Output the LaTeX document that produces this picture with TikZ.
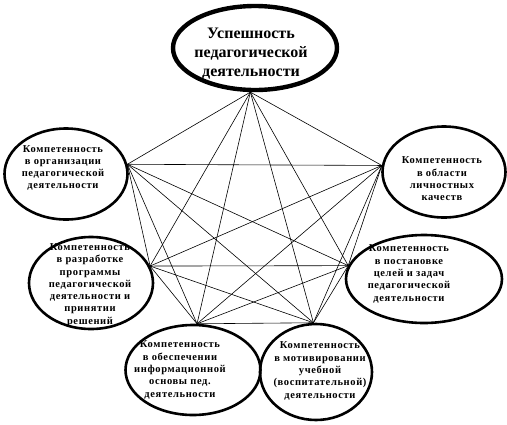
\documentclass[tikz,border=0pt]{standalone}
\usepackage{fontspec}
\setmainfont{Liberation Serif}
\newfontfamily\boxfont[LetterSpace=6]{Liberation Serif}
\usepackage{tikz}
\usetikzlibrary{shapes.geometric}
\tikzset{
  ring/.style={draw=black,ellipse,line width=2.6pt,inner sep=0pt},
  mainring/.style={ring,line width=4.4pt},
  txt/.style={align=center,font=\boxfont\bfseries\fontsize{10.5}{12.3}\selectfont,inner sep=0pt},
  maintxt/.style={align=center,font=\bfseries\fontsize{16}{19}\selectfont,inner sep=0pt},
  link/.style={black,line width=0.6pt},
}

\begin{document}
\begin{tikzpicture}[x=1pt,y=-1pt]
  \path[use as bounding box,fill=white] (0,0) rectangle (507,424);

  % ellipses
  \node[mainring,minimum width=164pt,minimum height=84pt] (top) at (255,48) {};
  \node[ring,minimum width=123pt,minimum height=91pt] (org) at (66,174) {};
  \node[ring,minimum width=123pt,minimum height=91pt] (pers) at (444,172) {};
  \node[ring,minimum width=124pt,minimum height=92pt] (prog) at (91,283) {};
  \node[ring,minimum width=156pt,minimum height=88pt] (goal) at (424,279) {};
  \node[ring,minimum width=135pt,minimum height=90pt] (info) at (193,370) {};
  \node[ring,minimum width=112pt,minimum height=96pt] (motiv) at (316,372) {};

  % texts
  \node[maintxt] (toptext) at (251,54) {Успешность\\педагогической\\деятельности};
  \node[txt] (orgtext) at (63,168) {Компетенность\\в организации\\педагогической\\деятельности};
  \node[txt] (perstext) at (442,179) {Компетенность\\в области\\личностных\\качеств};
  \node[txt] (progtext) at (90,285) {Компетенность\\в разработке\\программы\\педагогической\\деятельности и\\принятии\\решений};
  \node[txt] (goaltext) at (409,274) {Компетенность\\в постановке\\целей и задач\\педагогической\\деятельности};
  \node[txt] (infotext) at (180,370) {Компетенность\\в обеспечении\\информационной\\основы пед.\\деятельности};
  \node[txt] (motivtext) at (320,371) {Компетенность\\в мотивировании\\учебной\\(воспитательной)\\деятельности};

  % contact points
  \coordinate (p1) at (top.264);
  \coordinate (p2) at (org.9);
  \coordinate (p3) at (pers.174);
  \coordinate (p4) at (prog.16);
  \coordinate (p5) at (goal.170);
  \coordinate (p6) at (info.85);
  \coordinate (p7) at (motiv.93);

  % every point linked to every other
  \foreach \i in {1,...,6}{
    \pgfmathtruncatemacro\nxt{\i+1}
    \foreach \j in {\nxt,...,7}
      \draw[link] (p\i) -- (p\j);
  }
\end{tikzpicture}
\end{document}
